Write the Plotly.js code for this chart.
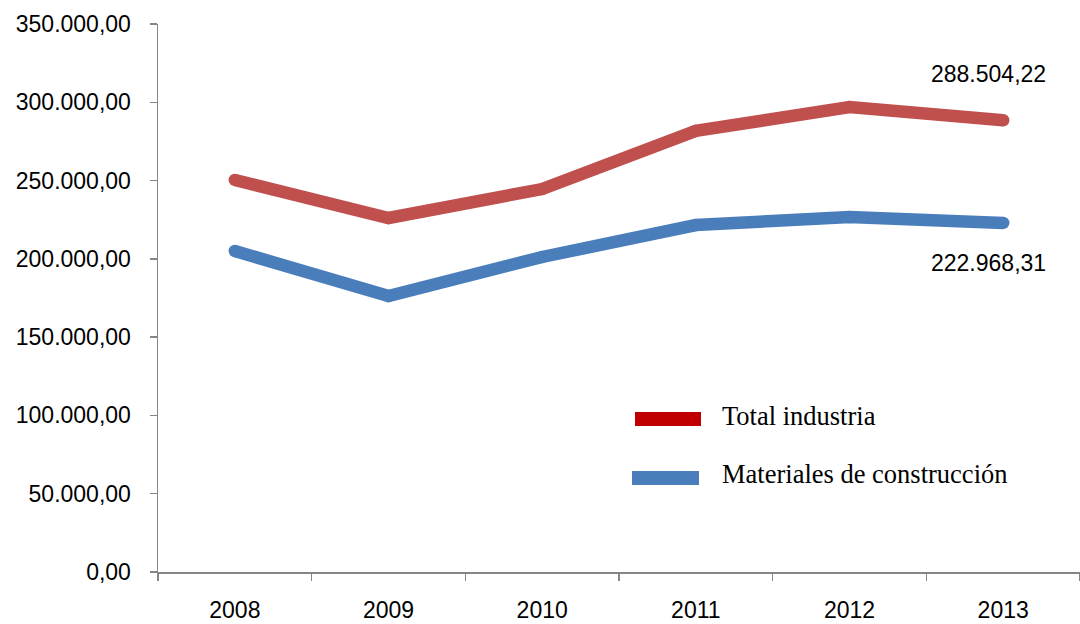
<!DOCTYPE html>
<html><head><meta charset="utf-8">
<script src="https://cdn.plot.ly/plotly-3.0.1.min.js"></script>
<style>html,body{margin:0;padding:0;background:#fff}#chart{width:1080px;height:624px}</style>
</head><body><div id="chart"></div>
<script>
const years = ['2008','2009','2010','2011','2012','2013'];
const totalIndustria = [250400, 226100, 244600, 281700, 297000, 288504.22];
const materiales = [205000, 176300, 201200, 221600, 226700, 222968.31];
const seriesNames = ['Total industria', 'Materiales de construcción'];
const lineColors = ['#C0504D', '#4A7EBB'];
const legendColors = ['#C00000', '#4A7EBB'];

function fmt(v){
  const parts = v.toFixed(2).split('.');
  const intp = parts[0].replace(/\B(?=(\d{3})+(?!\d))/g, '.');
  return intp + ',' + parts[1];
}

const traces = [totalIndustria, materiales].map((vals, i) => ({
  x: years, y: vals, type: 'scatter', mode: 'lines+markers',
  name: seriesNames[i],
  line: {color: lineColors[i], width: 12.5},
  marker: {color: lineColors[i], size: 12.5},
  hoverinfo: 'skip', showlegend: false
}));

const last = years.length - 1;
const tickFont = {family: 'Liberation Sans, Arial, sans-serif', size: 23, color: '#000'};
const serifFont = {family: 'Liberation Serif, Times New Roman, serif', size: 26.5, color: '#000'};
const pw = 1080 - 158, ph = 624 - 24 - 52;
function px(x){ return (x - 158) / pw; }
function py(y){ return (624 - 52 - y) / ph; }

const layout = {
  width: 1080, height: 624,
  margin: {l: 158, r: 0, t: 24, b: 52},
  separators: ',.',
  paper_bgcolor: '#fff', plot_bgcolor: '#fff',
  showlegend: false,
  xaxis: {
    type: 'category', range: [-0.5, 5.5],
    showline: true, linecolor: '#868686', linewidth: 1.5,
    ticks: 'outside', ticklen: 7, tickcolor: '#868686', tickwidth: 1.5,
    tickson: 'boundaries', showgrid: false, zeroline: false,
    tickfont: tickFont, ticklabelstandoff: 17
  },
  yaxis: {
    range: [0, 350000], tickvals: [0,50000,100000,150000,200000,250000,300000,350000],
    tickformat: ',.2f',
    showline: true, linecolor: '#868686', linewidth: 1.5,
    ticks: 'outside', ticklen: 7, tickcolor: '#868686', tickwidth: 1.5,
    showgrid: false, zeroline: false,
    tickfont: tickFont, ticklabelstandoff: 14
  },
  annotations: [
    {x: last, y: totalIndustria[last], xref: 'x', yref: 'y', text: fmt(totalIndustria[last]),
     showarrow: false, xshift: -15, yshift: 46, font: tickFont},
    {x: last, y: materiales[last], xref: 'x', yref: 'y', text: fmt(materiales[last]),
     showarrow: false, xshift: -15, yshift: -40, font: tickFont},
    {x: px(720), y: py(416), xref: 'paper', yref: 'paper', text: seriesNames[0], showarrow: false,
     xanchor: 'left', yanchor: 'middle', font: serifFont},
    {x: px(720), y: py(474), xref: 'paper', yref: 'paper', text: seriesNames[1], showarrow: false,
     xanchor: 'left', yanchor: 'middle', font: serifFont}
  ],
  shapes: [
    {type:'rect', xref:'paper', yref:'paper', x0: px(635), x1: px(701), y0: py(426), y1: py(412), fillcolor: legendColors[0], line:{width:0}},
    {type:'rect', xref:'paper', yref:'paper', x0: px(632), x1: px(699), y0: py(485), y1: py(471), fillcolor: legendColors[1], line:{width:0}}
  ]
};

Plotly.newPlot('chart', traces, layout, {staticPlot: true});
</script></body></html>
